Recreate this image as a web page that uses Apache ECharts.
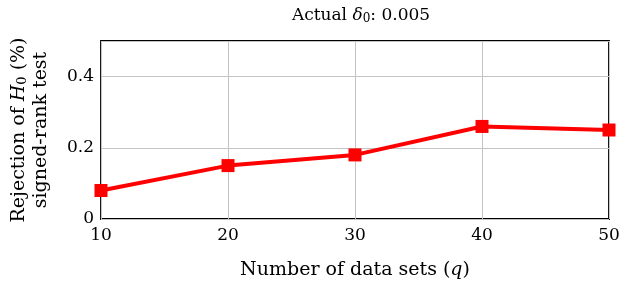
<!DOCTYPE html>
<html><head><meta charset="utf-8">
<script src="https://cdn.jsdelivr.net/npm/echarts@6/dist/echarts.min.js"></script>
<style>html,body{margin:0;padding:0;background:#fff}#c{width:640px;height:304px}</style>
</head><body><div id="c"></div>
<script>
var categories = [10, 20, 30, 40, 50];
var rejection = [0.08, 0.15, 0.18, 0.26, 0.25];
var yTicks = [0, 0.2, 0.4];

var F = "'DejaVu Serif', 'Liberation Serif', serif";
var chart = echarts.init(document.getElementById('c'));
chart.setOption({
  animation: false,
  textStyle: { fontFamily: F },
  title: {
    text: 'Actual {i|δ}{s|0}: 0.005',
    left: 356, top: 1, textAlign: 'center',
    textStyle: {
      fontFamily: F, fontSize: 17, fontWeight: 'normal', color: '#000',
      rich: {
        i: { fontFamily: F, fontSize: 17, fontStyle: 'italic', color: '#000' },
        s: { fontFamily: F, fontSize: 12, color: '#000', padding: [7, 0, 0, 0] }
      }
    }
  },
  grid: { left: 101, right: 31, top: 41, bottom: 85, show: true, borderColor: '#000', borderWidth: 1.8, backgroundColor: 'transparent' },
  xAxis: {
    type: 'value', min: 10, max: 50, interval: 10,
    name: 'Number of data sets ({i|q})', nameLocation: 'middle', nameGap: 42,
    nameTextStyle: { fontFamily: F, fontSize: 19, color: '#000',
      rich: { i: { fontFamily: F, fontSize: 19, fontStyle: 'italic', color: '#000' } } },
    axisLine: { show: false }, axisTick: { show: false },
    axisLabel: { color: '#000', fontFamily: F, fontSize: 17, margin: 8 },
    splitLine: { show: true, lineStyle: { color: '#c4c4c4', width: 1 } }
  },
  yAxis: {
    type: 'value', min: 0, max: 0.5, interval: 0.2,
    name: 'Rejection of {i|H}{s|0} (%)\nsigned-rank test', nameLocation: 'middle', nameRotate: 90, nameGap: 49,
    nameTextStyle: { fontFamily: F, fontSize: 19, color: '#000', lineHeight: 22, align: 'center',
      rich: {
        i: { fontFamily: F, fontSize: 19, fontStyle: 'italic', color: '#000', lineHeight: 22 },
        s: { fontFamily: F, fontSize: 13, color: '#000', lineHeight: 22, padding: [7, 0, 0, 0] }
      } },
    axisLine: { show: false }, axisTick: { show: false },
    axisLabel: { color: '#000', fontFamily: F, fontSize: 17, margin: 7,
      formatter: function (v) { var r = Math.round(v * 10) / 10; return yTicks.indexOf(r) >= 0 ? String(r) : ''; } },
    splitLine: { show: true, lineStyle: { color: '#c4c4c4', width: 1 } }
  },
  series: [{
    type: 'line',
    data: categories.map(function (c, i) { return [c, rejection[i]]; }),
    symbol: 'rect', symbolSize: 13,
    lineStyle: { color: '#ff0000', width: 4 },
    itemStyle: { color: '#ff0000' },
    clip: false
  }]
});
</script></body></html>
